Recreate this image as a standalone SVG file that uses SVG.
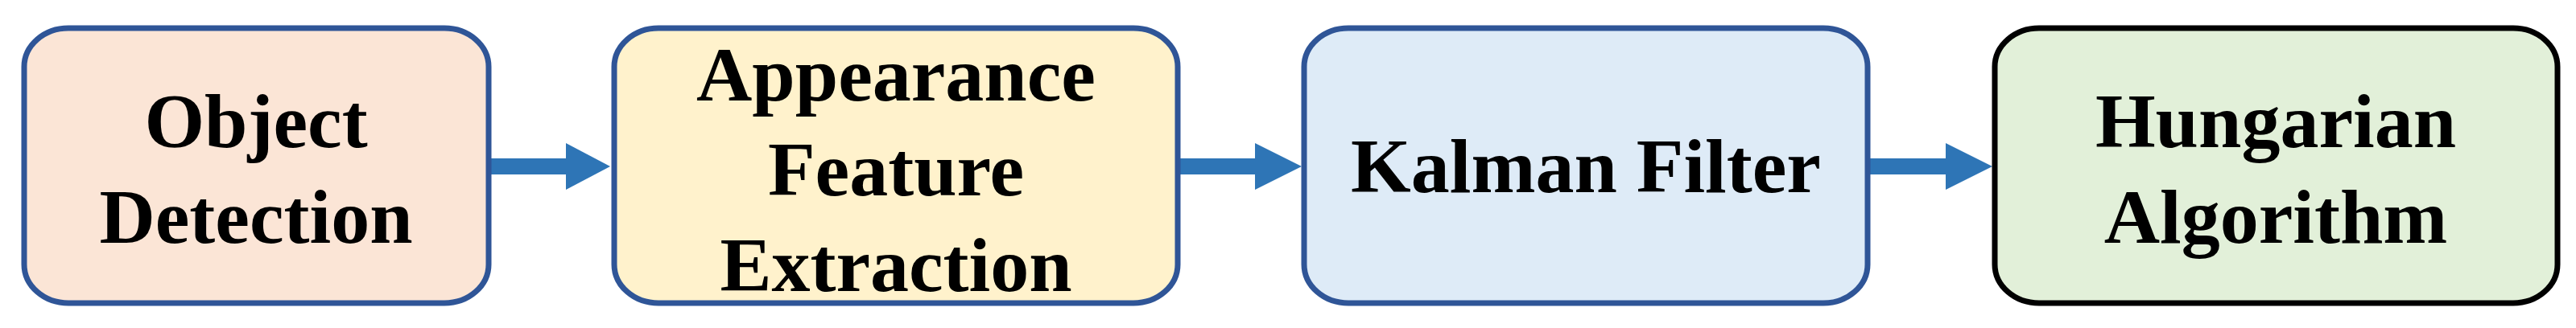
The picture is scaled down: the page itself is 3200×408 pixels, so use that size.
<svg xmlns="http://www.w3.org/2000/svg" width="3200" height="408" viewBox="0 0 3200 408">
<style>
.box{stroke:#2F5597;stroke-width:7}
.lbl{font-family:"Liberation Serif","Times New Roman",serif;font-weight:bold;font-size:96px;fill:#000;text-anchor:middle}
.arr{fill:#2E75B6}
</style>
<rect width="3200" height="408" fill="#FFFFFF"/>
<g id="connectors">
<g id="edge1"><rect class="arr" x="609" y="197" width="96" height="20"/><polygon class="arr" points="703,178 758,207 703,236"/></g>
<g id="edge2"><rect class="arr" x="1465" y="197" width="96" height="20"/><polygon class="arr" points="1559,178 1617,207 1559,236"/></g>
<g id="edge3"><rect class="arr" x="2322" y="197" width="97" height="20"/><polygon class="arr" points="2417,178 2475,207 2417,236"/></g>
</g>
<g id="node1">
<rect class="box" x="30" y="35" width="577" height="342" rx="55" ry="48" fill="#FBE5D6"/>
<text class="lbl" x="318" y="183">Object</text>
<text class="lbl" x="318" y="302">Detection</text>
</g>
<g id="node2">
<rect class="box" x="763" y="35" width="700" height="342" rx="55" ry="48" fill="#FFF2CC"/>
<text class="lbl" x="1113" y="125">Appearance</text>
<text class="lbl" x="1113" y="243">Feature</text>
<text class="lbl" x="1113" y="362">Extraction</text>
</g>
<g id="node3">
<rect class="box" x="1620" y="35" width="700" height="342" rx="55" ry="48" fill="#DEEBF7"/>
<text class="lbl" x="1970" y="239">Kalman Filter</text>
</g>
<g id="node4">
<rect x="2478" y="35" width="699" height="342" rx="55" ry="48" fill="#E2F0D9" stroke="#000000" stroke-width="7"/>
<text class="lbl" x="2827" y="183">Hungarian</text>
<text class="lbl" x="2827" y="302">Algorithm</text>
</g>
</svg>
